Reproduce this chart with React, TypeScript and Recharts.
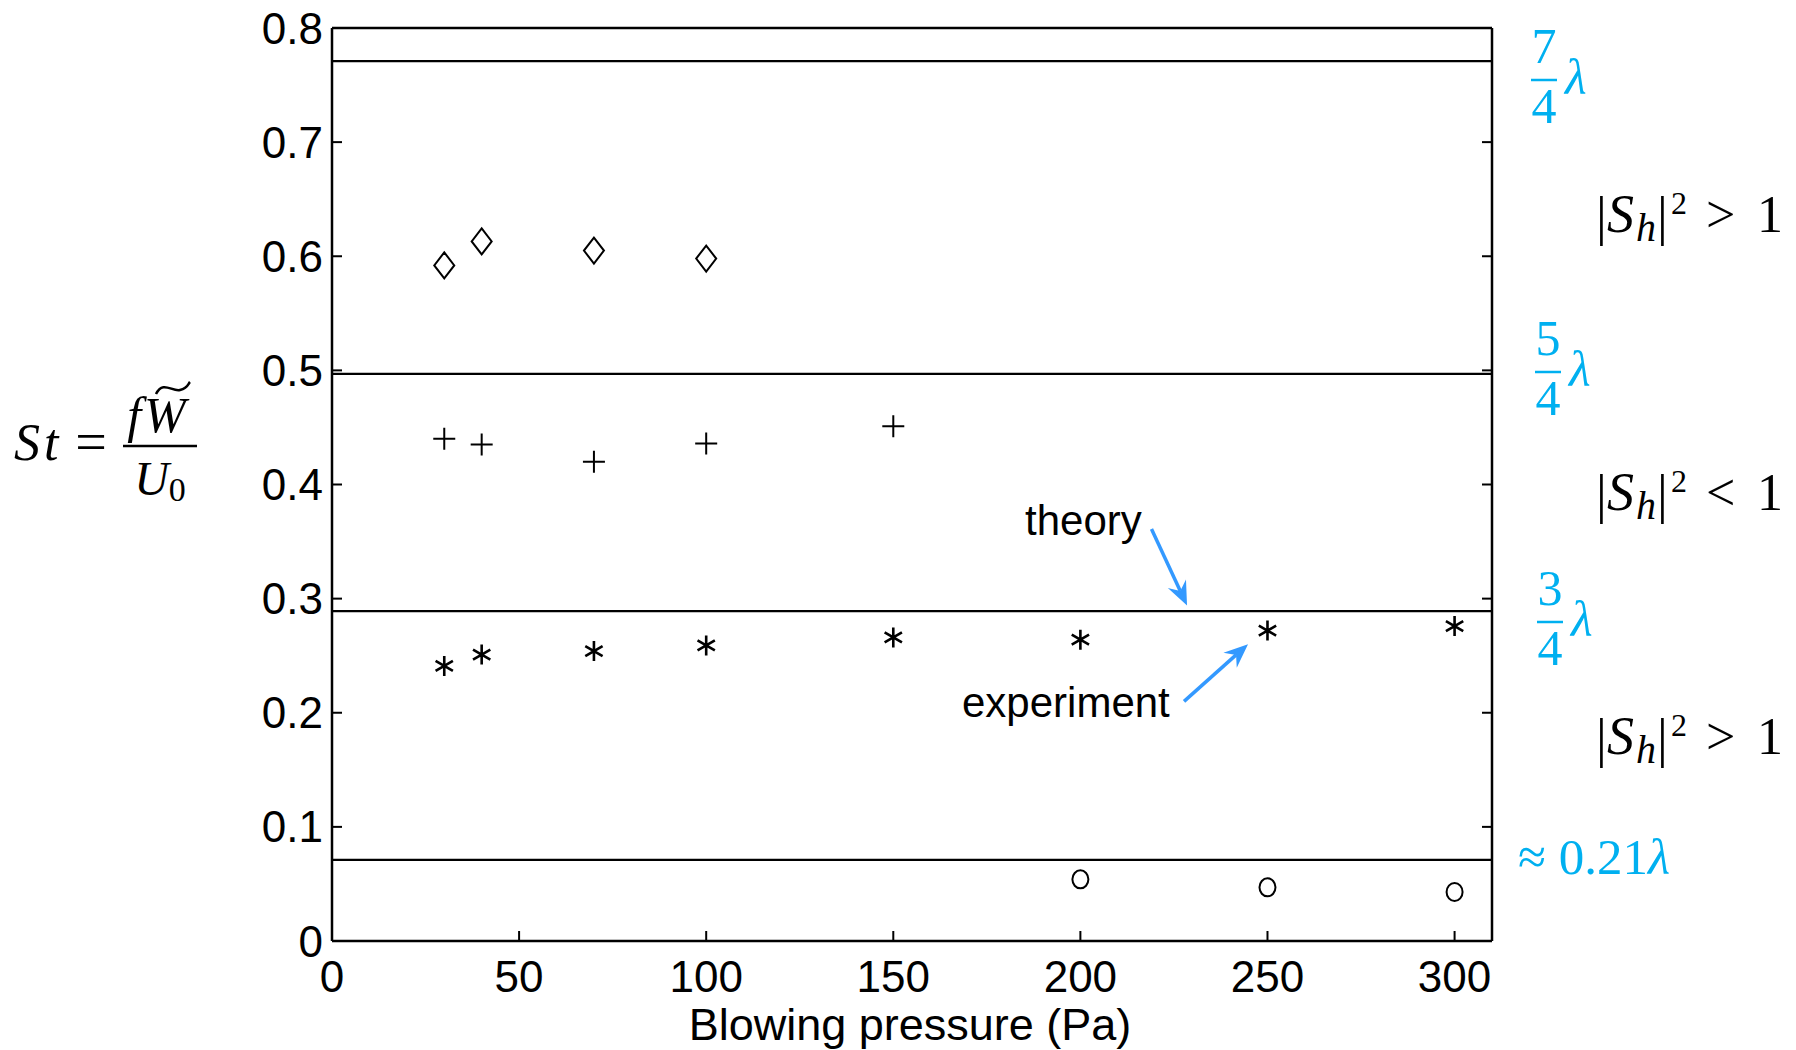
import { ScatterChart, Scatter, XAxis, YAxis, ReferenceLine } from "recharts";

const pressureTicks = [0, 50, 100, 150, 200, 250, 300];
const stTicks = [0, 0.1, 0.2, 0.3, 0.4, 0.5, 0.6, 0.7, 0.8];

const diamondPressure = [30, 40, 70, 100];
const diamondSt = [0.592, 0.613, 0.605, 0.598];
const plusPressure = [30, 40, 70, 100, 150];
const plusSt = [0.44, 0.435, 0.42, 0.436, 0.451];
const starPressure = [30, 40, 70, 100, 150, 200, 250, 300];
const starSt = [0.241, 0.251, 0.254, 0.259, 0.266, 0.264, 0.272, 0.276];
const circlePressure = [200, 250, 300];
const circleSt = [0.054, 0.047, 0.043];

const theoryLevels = [0.771, 0.497, 0.289, 0.071];

const theoryArrow = [{ x: 219, y: 0.361 }, { x: 228.5, y: 0.294 }];
const experimentArrow = [{ x: 227.7, y: 0.21 }, { x: 244.8, y: 0.26 }];

const toPoints = (xs: number[], ys: number[]) => xs.map((x, i) => ({ x, y: ys[i] }));

const BLUE = "#00b0f0";
const ARROW = "#3399ff";
const SERIF = "Liberation Serif, DejaVu Serif";
const tickFont = { fontSize: 44, fill: "#000", fontFamily: "Liberation Sans, Arial" };

const Diamond = ({ cx, cy }: any) => (
  <path d={`M${cx},${cy - 13}L${cx + 10},${cy}L${cx},${cy + 13}L${cx - 10},${cy}Z`} fill="none" stroke="#000" strokeWidth={2} />
);
const Plus = ({ cx, cy }: any) => (
  <path d={`M${cx - 11},${cy}H${cx + 11}M${cx},${cy - 11}V${cy + 11}`} stroke="#000" strokeWidth={2} />
);
const Star = ({ cx, cy }: any) => {
  const r = 10;
  const dx = r * Math.cos(Math.PI / 6);
  const dy = r * Math.sin(Math.PI / 6);
  return (
    <path
      d={`M${cx},${cy - r}V${cy + r}M${cx - dx},${cy - dy}L${cx + dx},${cy + dy}M${cx - dx},${cy + dy}L${cx + dx},${cy - dy}`}
      stroke="#000"
      strokeWidth={2.6}
    />
  );
};
const Ring = ({ cx, cy }: any) => <ellipse cx={cx} cy={cy} rx={8} ry={9} fill="none" stroke="#000" strokeWidth={2} />;

const Arrow = (props: any) => {
  const { x1, y1, x2, y2 } = props;
  const a = Math.atan2(y2 - y1, x2 - x1);
  const c = Math.cos(a), s = Math.sin(a);
  const len = 24, w = 10, notch = 16;
  const p = (d: number, o: number) => `${x2 - d * c - o * s},${y2 - d * s + o * c}`;
  return (
    <g>
      <line x1={x1} y1={y1} x2={x2 - notch * c} y2={y2 - notch * s} stroke={ARROW} strokeWidth={3.5} />
      <polygon points={`${x2},${y2} ${p(len, w)} ${p(notch, 0)} ${p(len, -w)}`} fill={ARROW} />
    </g>
  );
};

const Frac = ({ x, y, num, den }: any) => (
  <g fill={BLUE} fontFamily={SERIF} fontSize={50}>
    <text x={x} y={y - 17} textAnchor="middle">{num}</text>
    <line x1={x - 13} x2={x + 13} y1={y} y2={y} stroke={BLUE} strokeWidth={2.5} />
    <text x={x} y={y + 43} textAnchor="middle">{den}</text>
    <text x={x + 21} y={y + 14} fontStyle="italic">λ</text>
  </g>
);

const Sh = ({ y, rel }: any) => (
  <g fontFamily={SERIF} fill="#000">
    <text x={1596} y={y + 2} fontSize={54}>|</text>
    <text x={1607} y={y} fontSize={54} fontStyle="italic">S</text>
    <text x={1636} y={y + 9} fontSize={40} fontStyle="italic">h</text>
    <text x={1657} y={y + 2} fontSize={54}>|</text>
    <text x={1671} y={y - 18} fontSize={32}>2</text>
    <text x={1706} y={y} fontSize={52}>{rel}</text>
    <text x={1757} y={y} fontSize={52}>1</text>
  </g>
);

export default function App() {
  return (
    <div style={{ position: "absolute", left: 0, top: 0, width: 1796, height: 1050, background: "#fff" }}>
      <ScatterChart
        width={1796}
        height={1050}
        margin={{ top: 27, right: 303, bottom: 49, left: 252 }}
        style={{ fontFamily: "Liberation Sans, Arial" }}
      >
        <XAxis
          type="number"
          dataKey="x"
          domain={[0, 310]}
          ticks={pressureTicks}
          interval={0}
          allowDataOverflow
          height={60}
          tickSize={-10}
          tickMargin={30}
          tick={tickFont}
          tickLine={{ stroke: "#000", strokeWidth: 2 }}
          axisLine={{ stroke: "#000", strokeWidth: 2.5 }}
        />
        <XAxis
          xAxisId="top"
          orientation="top"
          type="number"
          domain={[0, 310]}
          ticks={pressureTicks}
          interval={0}
          allowDataOverflow
          height={1}
          tickSize={-10}
          tickFormatter={() => ""}
          tickLine={{ stroke: "#000", strokeWidth: 2 }}
          axisLine={{ stroke: "#000", strokeWidth: 2.5 }}
        />
        <YAxis
          type="number"
          dataKey="y"
          domain={[0, 0.8]}
          ticks={stTicks}
          interval={0}
          allowDataOverflow
          width={80}
          tickSize={-10}
          tickMargin={19}
          tick={tickFont}
          tickFormatter={(v: number) => (v === 0 ? "0" : v.toFixed(1))}
          tickLine={{ stroke: "#000", strokeWidth: 2 }}
          axisLine={{ stroke: "#000", strokeWidth: 2.5 }}
        />
        <YAxis
          yAxisId="right"
          orientation="right"
          type="number"
          domain={[0, 0.8]}
          ticks={stTicks}
          interval={0}
          allowDataOverflow
          width={1}
          tickSize={-10}
          tickFormatter={() => ""}
          tickLine={{ stroke: "#000", strokeWidth: 2 }}
          axisLine={{ stroke: "#000", strokeWidth: 2.5 }}
        />
        {theoryLevels.map((v) => (
          <ReferenceLine key={v} y={v} stroke="#000" strokeWidth={2.2} />
        ))}
        <Scatter data={toPoints(diamondPressure, diamondSt)} shape={Diamond} isAnimationActive={false} />
        <Scatter data={toPoints(plusPressure, plusSt)} shape={Plus} isAnimationActive={false} />
        <Scatter data={toPoints(starPressure, starSt)} shape={Star} isAnimationActive={false} />
        <Scatter data={toPoints(circlePressure, circleSt)} shape={Ring} isAnimationActive={false} />
        <ReferenceLine segment={theoryArrow} shape={Arrow} />
        <ReferenceLine segment={experimentArrow} shape={Arrow} />
      </ScatterChart>
      <svg
        width={1796}
        height={1050}
        style={{ position: "absolute", left: 0, top: 0, pointerEvents: "none" }}
      >
        <g fontFamily="Liberation Sans, Arial" fontSize={42} fill="#000">
          <text x={1025} y={535}>theory</text>
          <text x={962} y={717}>experiment</text>
          <text x={910} y={1040} fontSize={45} textAnchor="middle">Blowing pressure (Pa)</text>
        </g>
        <g fontFamily={SERIF} fill="#000">
          <text x={14} y={460} fontSize={52} fontStyle="italic" letterSpacing={4}>St</text>
          <text x={91} y={461} fontSize={56} textAnchor="middle">=</text>
          <text x={158} y={432} fontSize={50} textAnchor="middle" fontStyle="italic" letterSpacing={3}>fW</text>
          <path d="M156,394 C163,380 172,392 180,390 S188,384 190,382" fill="none" stroke="#000" strokeWidth={2.5} />
          <line x1={123} x2={197} y1={446} y2={446} stroke="#000" strokeWidth={2.5} />
          <text x={160} y={495} fontSize={48} textAnchor="middle" fontStyle="italic">
            U<tspan fontStyle="normal" fontSize={34} dy={6}>0</tspan>
          </text>
        </g>
        <Frac x={1544} y={80} num="7" den="4" />
        <Frac x={1548} y={372} num="5" den="4" />
        <Frac x={1550} y={622} num="3" den="4" />
        <text x={1518} y={874} fontFamily={SERIF} fontSize={51} fill={BLUE}>
          ≈ 0.21<tspan fontStyle="italic">λ</tspan>
        </text>
        <Sh y={232} rel=">" />
        <Sh y={510} rel="<" />
        <Sh y={754} rel=">" />
      </svg>
    </div>
  );
}
